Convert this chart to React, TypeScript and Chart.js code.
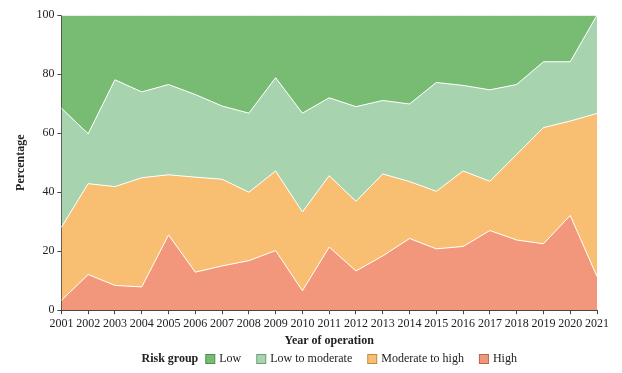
import React, { useEffect, useRef } from "react";
import { Chart, registerables } from "chart.js";

Chart.register(...registerables);

const years = ["2001","2002","2003","2004","2005","2006","2007","2008","2009","2010","2011","2012","2013","2014","2015","2016","2017","2018","2019","2020","2021"];

// Individual shares (percent) per risk group
const high = [3.3, 12.1, 8.4, 7.9, 25.5, 12.9, 15.0, 16.8, 20.2, 6.6, 21.4, 13.3, 18.4, 24.3, 20.8, 21.6, 27.0, 23.8, 22.5, 32.1, 11.4];
const moderateToHigh = [24.8, 30.8, 33.5, 37.0, 20.4, 32.2, 29.4, 23.2, 27.0, 26.7, 24.2, 23.6, 27.8, 19.3, 19.5, 25.6, 16.7, 29.0, 39.4, 32.0, 55.3];
const lowToModerate = [40.4, 16.9, 36.2, 29.1, 30.6, 28.0, 24.8, 26.8, 31.6, 33.5, 26.4, 32.1, 24.9, 26.3, 36.9, 29.0, 31.0, 23.7, 22.3, 20.1, 33.3];
const low = [31.5, 40.2, 21.9, 26.0, 23.5, 26.9, 30.8, 33.2, 21.2, 33.2, 28.0, 31.0, 28.9, 30.1, 22.8, 23.8, 25.3, 23.5, 15.8, 15.8, 0.0];

const yTicks = [0, 20, 40, 60, 80, 100];

const groups = [
  { label: "Low", data: low, color: "#77bc72", edge: "#4e8f4b" },
  { label: "Low to moderate", data: lowToModerate, color: "#a7d3ae", edge: "#6f9e76" },
  { label: "Moderate to high", data: moderateToHigh, color: "#f8be72", edge: "#c08a44" },
  { label: "High", data: high, color: "#f2977b", edge: "#b86650" },
];

const FONT = "'Liberation Serif', 'Times New Roman', serif";
const FS = 12;

const legendPlugin = {
  id: "riskLegend",
  afterDraw(chart: any) {
    const ctx = chart.ctx;
    const area = chart.chartArea;
    const y = chart.height - 14;
    ctx.save();
    ctx.textBaseline = "middle";
    const titleFont = `bold ${FS}px ${FONT}`;
    const itemFont = `${FS}px ${FONT}`;
    ctx.font = titleFont;
    const titleW = ctx.measureText("Risk group").width;
    ctx.font = itemFont;
    const box = 10, gapBox = 4, gapItem = 15, gapTitle = 7;
    let total = titleW + gapTitle;
    const widths = groups.map((g) => ctx.measureText(g.label).width);
    widths.forEach((w, i) => {
      total += box + gapBox + w + (i < widths.length - 1 ? gapItem : 0);
    });
    let x = (area.left + area.right) / 2 - total / 2;
    ctx.fillStyle = "#222";
    ctx.font = titleFont;
    ctx.textAlign = "left";
    ctx.fillText("Risk group", x, y);
    x += titleW + gapTitle;
    ctx.font = itemFont;
    groups.forEach((g, i) => {
      ctx.fillStyle = g.color;
      ctx.fillRect(x + 0.5, y - box / 2 + 0.5, box - 1, box - 1);
      ctx.strokeStyle = g.edge;
      ctx.lineWidth = 1;
      ctx.strokeRect(x + 0.5, y - box / 2 + 0.5, box - 1, box - 1);
      x += box + gapBox;
      ctx.fillStyle = "#222";
      ctx.fillText(g.label, x, y);
      x += widths[i] + gapItem;
    });
    ctx.restore();
  },
};

export default function App() {
  const ref = useRef<HTMLCanvasElement>(null);
  useEffect(() => {
    if (!ref.current) return;
    const stackOrder = [...groups].reverse(); // High at the bottom
    const chart = new Chart(ref.current, {
      type: "line",
      data: {
        labels: years,
        datasets: stackOrder.map((g, i) => ({
          label: g.label,
          data: g.data,
          backgroundColor: g.color,
          borderColor: "#ffffff",
          borderWidth: 1,
          pointRadius: 0,
          tension: 0,
          fill: i === 0 ? "origin" : "-1",
        })),
      },
      options: {
        animation: false,
        responsive: false,
        layout: { padding: { top: 5, right: 17, left: 6, bottom: 25 } },
        plugins: { legend: { display: false }, tooltip: { enabled: false } },
        scales: {
          x: {
            type: "category",
            offset: false,
            grid: { display: true, drawOnChartArea: false, drawTicks: true, tickLength: 4, color: "#444" },
            border: { display: true, color: "#444", width: 1 },
            ticks: { color: "#222", font: { family: FONT, size: FS }, padding: 2, maxRotation: 0, autoSkip: false },
            title: { display: true, text: "Year of operation", color: "#222", font: { family: FONT, size: FS, weight: "bold" }, padding: { top: 1, bottom: 0 } },
          },
          y: {
            stacked: true,
            min: 0,
            max: 100,
            afterBuildTicks: (axis: any) => {
              axis.ticks = yTicks.map((v) => ({ value: v }));
            },
            grid: { display: true, drawOnChartArea: false, drawTicks: true, tickLength: 4, color: "#444" },
            border: { display: true, color: "#444", width: 1 },
            ticks: { color: "#222", font: { family: FONT, size: FS }, padding: 3 },
            title: { display: true, text: "Percentage", color: "#222", font: { family: FONT, size: FS, weight: "bold" }, padding: { top: 0, bottom: 5 } },
          },
        },
      },
      plugins: [legendPlugin],
    });
    return () => chart.destroy();
  }, []);
  return <canvas ref={ref} width={606} height={368} style={{ display: "block", marginTop: -3 }} />;
}
